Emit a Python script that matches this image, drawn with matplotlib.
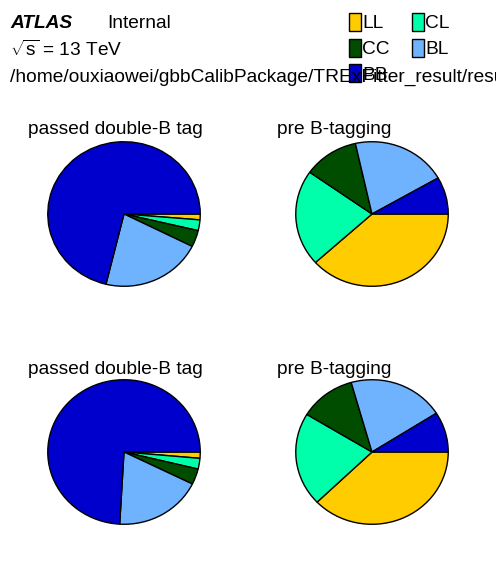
import matplotlib
matplotlib.use("Agg")
import matplotlib.pyplot as plt
from matplotlib.patches import Rectangle

plt.rcParams['font.family'] = ['Liberation Sans', 'DejaVu Sans']
plt.rcParams['mathtext.fontset'] = 'custom'
plt.rcParams['mathtext.rm'] = 'Liberation Sans'
plt.rcParams['mathtext.it'] = 'Liberation Sans:italic'

# flavour categories, legend order (slices go clockwise from 3 o'clock)
categories = ["LL", "CL", "CC", "BL", "BB"]
colors = ["#ffcc00", "#00ffaa", "#004d00", "#6fb3ff", "#0000cc"]

# fractions (percent)
passed_top = [1.3, 2.4, 3.7, 21.4, 71.2]
pretag_top = [38.3, 21.5, 11.7, 20.2, 8.3]
passed_bot = [1.4, 2.4, 3.5, 18.6, 74.1]
pretag_bot = [37.8, 20.9, 11.9, 20.4, 9.0]

titles = ["passed double-B tag", "pre B-tagging"]

W, H = 496, 572
FS = 13.8
fig = plt.figure(figsize=(W / 100, H / 100), dpi=100)


def px_axes(cx, cy, rx, ry):
    return fig.add_axes([(cx - rx) / W, (H - cy - ry) / H, 2 * rx / W, 2 * ry / H])


def draw_pie(ax, vals):
    ax.pie(vals, colors=colors, startangle=0, counterclock=False,
           wedgeprops=dict(edgecolor="black", linewidth=1.0))
    ax.set_aspect("auto")
    ax.set_xlim(-1.01, 1.01)
    ax.set_ylim(-1.01, 1.01)
    ax.axis("off")


pies = [(passed_top, 124, 214), (pretag_top, 372, 214),
        (passed_bot, 124, 452), (pretag_bot, 372, 452)]
for vals, cx, cy in pies:
    ax = px_axes(cx, cy, 77, 73)
    draw_pie(ax, vals)

# pad titles
for row_y in (130, 370):
    fig.text(28 / W, 1 - row_y / H, titles[0], fontsize=FS, va="center")
    fig.text(277 / W, 1 - row_y / H, titles[1], fontsize=FS, va="center")

# header
fig.text(10 / W, 1 - 23 / H, "ATLAS", fontsize=FS, fontweight="bold",
         fontstyle="italic", va="center")
fig.text(107 / W, 1 - 23 / H, "Internal", fontsize=FS, va="center")
fig.text(10 / W, 1 - 50 / H, r"$\sqrt{\mathrm{s}}$ = 13 TeV", fontsize=FS, va="center")
fig.text(10 / W, 1 - 77 / H,
         "/home/ouxiaowei/gbbCalibPackage/TRExFitter_result/results/pie",
         fontsize=FS, va="center")

# legend, two columns
leg_pos = [(349, 22), (412, 22), (349, 48), (412, 48), (349, 73)]
for lab, col, (lx, ly) in zip(categories, colors, leg_pos):
    fig.patches.append(Rectangle((lx / W, 1 - (ly + 9) / H), 12 / W, 18 / H,
                                 transform=fig.transFigure, facecolor=col,
                                 edgecolor="black", linewidth=1.0))
    fig.text((lx + 13) / W, 1 - (ly + 2) / H, lab, fontsize=FS, va="center")

fig.savefig("out.png", dpi=100)
